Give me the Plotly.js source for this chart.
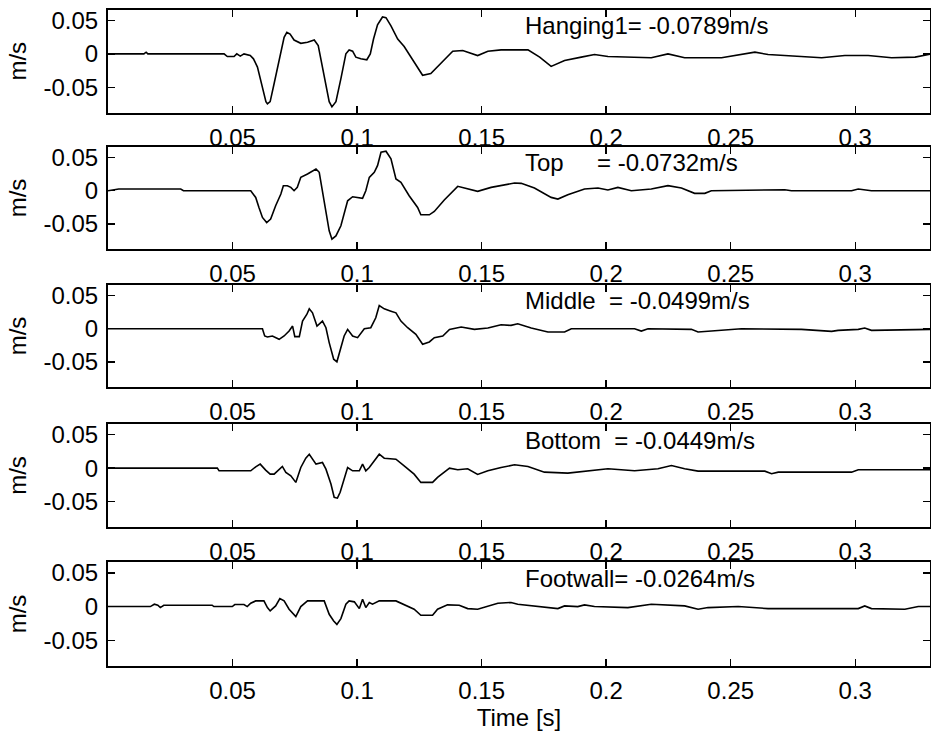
<!DOCTYPE html>
<html><head><meta charset="utf-8">
<script src="https://cdn.plot.ly/plotly-3.0.1.min.js"></script>
<style>html,body{margin:0;padding:0;background:#fff}</style>
</head><body>
<div id="chart" style="width:931px;height:739px"></div>
<script>
// ---- data (time in s, velocity in m/s) ----
const tHanging = [0,0.0144,0.0153,0.0160,0.0466,0.0479,0.0506,0.0517,0.0531,0.0546,0.0571,0.0584,0.0600,0.0620,0.0634,0.0640,0.0651,0.0667,0.0687,0.0707,0.0718,0.0731,0.0747,0.0774,0.0801,0.0828,0.0844,0.0861,0.0875,0.0888,0.0899,0.0915,0.0935,0.0955,0.0968,0.0982,0.0995,0.1015,0.1039,0.1053,0.1066,0.1082,0.1102,0.1116,0.1136,0.1163,0.1189,0.1229,0.1263,0.1296,0.1323,0.1350,0.1384,0.1424,0.1458,0.1484,0.1525,0.1578,0.1686,0.1733,0.1779,0.1833,0.1900,0.1953,0.2007,0.2181,0.2248,0.2315,0.2463,0.2543,0.2597,0.2650,0.2771,0.2865,0.2958,0.3052,0.3146,0.3240,0.3307];
const vHanging = [0,0,0.0025,0,0,-0.004,-0.004,0,-0.0034,0,-0.0025,-0.0074,-0.0196,-0.0515,-0.0711,-0.0745,-0.0711,-0.0441,-0.0098,0.0245,0.0319,0.0294,0.0206,0.0157,0.0172,0.0206,0.0123,-0.0196,-0.0515,-0.0711,-0.0789,-0.0711,-0.0368,0,0.0059,0.0039,-0.0049,-0.0074,-0.0088,0,0.0221,0.0431,0.0549,0.0539,0.0417,0.0221,0.0108,-0.0123,-0.0319,-0.0294,-0.0196,-0.0098,0.0039,0.0049,0.0010,-0.0025,0.0039,0.0059,0.0059,-0.0049,-0.0186,-0.0098,-0.0049,-0.0010,-0.0039,-0.0059,0,-0.0059,-0.0059,-0.001,0.0025,-0.001,-0.0039,-0.0059,-0.0025,-0.0025,-0.0059,-0.0049,0];

const tTop = [0,0.0043,0.0292,0.0303,0.0573,0.0593,0.0606,0.0620,0.0637,0.0653,0.0673,0.0694,0.0704,0.0720,0.0734,0.0747,0.0760,0.0774,0.0801,0.0835,0.0848,0.0861,0.0875,0.0888,0.0899,0.0915,0.0935,0.0962,0.0982,0.0995,0.1022,0.1035,0.1049,0.1069,0.1082,0.1096,0.1116,0.1136,0.1156,0.1176,0.1209,0.1243,0.1256,0.1290,0.1310,0.1350,0.1404,0.1431,0.1484,0.1538,0.1632,0.1659,0.1712,0.1779,0.1806,0.1846,0.1913,0.1967,0.2007,0.2047,0.2101,0.2181,0.2248,0.2302,0.2355,0.2396,0.2422,0.2717,0.2744,0.2985,0.3012,0.3065,0.3307];
const vTop = [0,0.0025,0.0025,0,0,-0.0101,-0.0253,-0.0404,-0.0480,-0.0429,-0.0227,-0.0051,0.0076,0.0076,0.0051,0,0.0051,0.0202,0.0253,0.0328,0.0278,0,-0.0303,-0.0606,-0.0732,-0.0682,-0.0530,-0.0152,-0.0091,-0.0101,-0.0116,0,0.0202,0.0278,0.0379,0.0581,0.0596,0.0480,0.0177,0.0126,-0.0076,-0.0253,-0.0364,-0.0364,-0.0313,-0.0141,0.0066,0.004,-0.001,0.005,0.0116,0.0111,0.004,-0.0101,-0.0126,-0.006,0.0025,0.004,0.001,0.005,0,0.0025,0.0076,0.004,-0.004,-0.004,0,0.0015,0,0,0.0025,0,0];

const tMiddle = [0,0.0620,0.0629,0.0640,0.0660,0.0687,0.0707,0.0727,0.0741,0.0750,0.0768,0.0781,0.0798,0.0808,0.0821,0.0839,0.0861,0.0875,0.0888,0.0906,0.0919,0.0932,0.0948,0.0962,0.0982,0.1002,0.1029,0.1055,0.1075,0.1089,0.1109,0.1136,0.1156,0.1176,0.1203,0.1236,0.1263,0.1290,0.1310,0.1344,0.1371,0.1418,0.1471,0.1525,0.1578,0.1618,0.1645,0.1699,0.1766,0.1833,0.1860,0.2114,0.2141,0.2168,0.2342,0.2369,0.2409,0.2543,0.2784,0.2905,0.2931,0.3012,0.3038,0.3065,0.3307];
const vMiddle = [0,0,-0.011,-0.0125,-0.011,-0.016,-0.011,-0.0035,0.004,-0.012,-0.012,0.0115,0.0215,0.030,0.024,0.004,0.0115,0.0015,-0.021,-0.046,-0.0499,-0.031,-0.011,-0.001,-0.011,-0.0135,0,0.0015,0.0165,0.035,0.030,0.0265,0.024,0.0115,0.0015,-0.0085,-0.0235,-0.020,-0.0135,-0.011,-0.001,0.0025,-0.001,0.001,0.006,0.005,0.0075,0.001,-0.005,-0.005,0,0,-0.0035,0,-0.001,-0.005,-0.004,0,-0.001,-0.004,-0.0025,-0.001,0.001,-0.0025,-0.001];

const tBottom = [0,0.0439,0.0446,0.0573,0.0593,0.0611,0.0633,0.0651,0.0667,0.0680,0.0700,0.0714,0.0734,0.0754,0.0774,0.0794,0.0808,0.0835,0.0861,0.0875,0.0895,0.0908,0.0921,0.0932,0.0946,0.0962,0.0982,0.1009,0.1022,0.1035,0.1049,0.1069,0.1089,0.1109,0.1156,0.1189,0.1229,0.1256,0.1303,0.1323,0.1371,0.1404,0.1444,0.1484,0.1525,0.1578,0.1632,0.1686,0.1752,0.1846,0.1940,0.2007,0.2114,0.2208,0.2262,0.2315,0.2369,0.2637,0.2664,0.2691,0.2985,0.3012,0.3307];
const vBottom = [0,0,-0.004,-0.004,0.002,0.006,-0.003,-0.009,-0.009,-0.004,0.0025,-0.0064,-0.0114,-0.0213,0.001,0.0149,0.0208,0.006,0.0084,-0.0015,-0.0238,-0.0436,-0.0449,-0.036,-0.0188,0.001,-0.004,-0.004,0.006,-0.004,0.001,0.0109,0.0208,0.0149,0.0134,0.0035,-0.009,-0.0213,-0.0213,-0.0139,0,-0.0025,-0.001,-0.0094,-0.004,0.001,0.005,0.0025,-0.006,-0.0074,-0.004,-0.001,-0.004,-0.001,0.004,-0.001,-0.0045,-0.0045,-0.0084,-0.006,-0.006,-0.0025,-0.0025];

const tFootwall = [0,0.0170,0.0186,0.0200,0.0210,0.0224,0.0418,0.0425,0.0499,0.0509,0.0546,0.0559,0.0573,0.0593,0.0626,0.0640,0.0651,0.0673,0.0690,0.0707,0.0727,0.0754,0.0774,0.0801,0.0868,0.0888,0.0906,0.0919,0.0935,0.0955,0.0968,0.0989,0.1009,0.1022,0.1035,0.1049,0.1062,0.1089,0.1156,0.1203,0.1229,0.1256,0.1303,0.1323,0.1363,0.1410,0.1444,0.1484,0.1565,0.1618,0.1645,0.1806,0.1833,0.1886,0.1913,0.1953,0.2087,0.2181,0.2315,0.2369,0.2409,0.2530,0.2650,0.3012,0.3038,0.3065,0.3199,0.3253,0.3307];
const vFootwall = [0,0,0.0035,0.002,-0.0015,0.002,0.002,0,0,0.003,0.003,0,0.005,0.0084,0.0084,-0.0015,-0.0064,0.001,0.0119,0.0084,-0.004,-0.0149,0,0.0084,0.0084,-0.0114,-0.0213,-0.0264,-0.0178,0.0035,0.0084,0.007,-0.003,0.0109,-0.0015,0.006,0.0035,0.0084,0.0084,0.001,-0.004,-0.0129,-0.0129,-0.004,0.0025,0.002,-0.003,-0.004,0.005,0.006,0.0035,-0.003,0.001,0,0.0025,0,-0.0015,0.0035,0.001,-0.004,-0.0015,0,-0.003,-0.003,0.001,-0.003,-0.004,0,0];

const seriesT = [tHanging, tTop, tMiddle, tBottom, tFootwall];
const seriesV = [vHanging, vTop, vMiddle, vBottom, vFootwall];
const peakLabels = ["Hanging1= -0.0789m/s", "Top     = -0.0732m/s", "Middle  = -0.0499m/s", "Bottom  = -0.0449m/s", "Footwall= -0.0264m/s"];
const xTickVals = [0.05, 0.1, 0.15, 0.2, 0.25, 0.3];
const xTickText = ["0.05", "0.1", "0.15", "0.2", "0.25", "0.3"];
const yTickVals = [-0.05, 0, 0.05];
const yTickText = ["-0.05", "0", "0.05"];
const xTitle = "Time [s]";
const yTitle = "m/s";

// ---- layout ----
const FONT = {family: "Liberation Sans, Arial, sans-serif", size: 24, color: "#000"};
const H = 739;
const panelPx = [[9.5, 113], [147, 249], [285, 387], [424, 527], [562, 666]];
const traces = [];
const layout = {
  width: 931, height: 739,
  margin: {l: 108, r: 1, t: 0, b: 0},
  paper_bgcolor: "#fff", plot_bgcolor: "#fff",
  showlegend: false,
  font: FONT,
  annotations: []
};
for (let i = 0; i < 5; i++) {
  const s = i === 0 ? "" : String(i + 1);
  traces.push({
    x: seriesT[i], y: seriesV[i], type: "scatter", mode: "lines",
    xaxis: "x" + s, yaxis: "y" + s,
    line: {color: "#000", width: 1.6}, hoverinfo: "skip"
  });
  const common = {
    showline: true, mirror: "ticks", linecolor: "#000", linewidth: 2,
    ticks: "inside", ticklen: 7, tickwidth: 1.5, tickcolor: "#000",
    showgrid: false, zeroline: false, tickfont: FONT, fixedrange: true
  };
  layout["xaxis" + s] = Object.assign({}, common, {
    domain: [0, 1], range: [0, 0.33], anchor: "y" + s,
    tickmode: "array", tickvals: xTickVals, ticktext: xTickText,
    ticklabelstandoff: 2
  });
  if (i === 4) layout["xaxis" + s].title = {text: xTitle, font: FONT, standoff: 4};
  layout["yaxis" + s] = Object.assign({}, common, {
    domain: [1 - panelPx[i][1] / H, 1 - panelPx[i][0] / H],
    range: [-0.088, 0.066], anchor: "x" + s,
    tickmode: "array", tickvals: yTickVals, ticktext: yTickText,
    ticklabelstandoff: 3,
    title: {text: yTitle, font: FONT, standoff: 10}
  });
  layout.annotations.push({
    xref: "x" + s, yref: "y" + s, x: 0.1665, y: 0.042,
    xanchor: "left", yanchor: "middle", showarrow: false,
    text: peakLabels[i].replace(/ /g, "\u00a0"), font: FONT
  });
}
Plotly.newPlot("chart", traces, layout, {displayModeBar: false, staticPlot: true});
</script>
</body></html>
